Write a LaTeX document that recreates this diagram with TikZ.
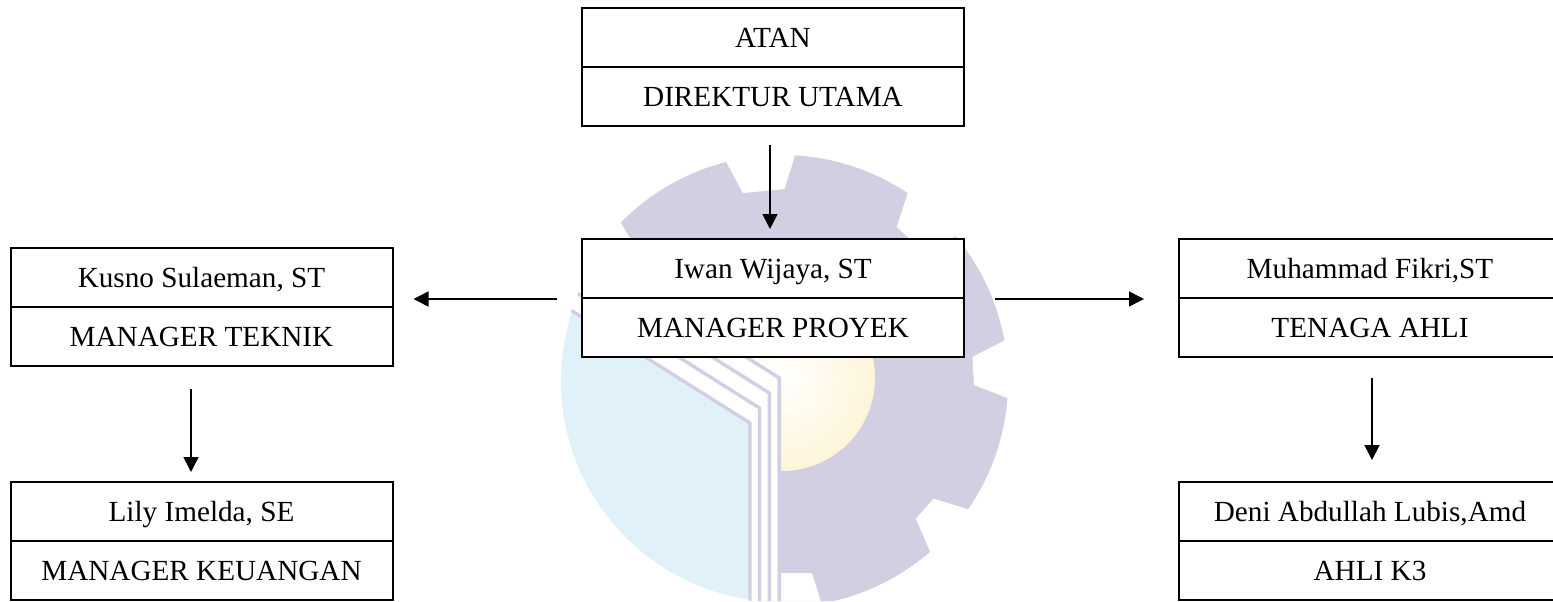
\documentclass[tikz,border=0pt]{standalone}
\usepackage{fontspec}
\setmainfont{Liberation Serif}
\usetikzlibrary{arrows.meta}
\definecolor{gearcol}{HTML}{D2CFE2}
\definecolor{bookcol}{HTML}{E0F1FA}
\definecolor{suncol}{HTML}{FEF5D8}
\tikzset{
    cell/.style={draw=black,fill=white,line width=1pt,minimum width=191pt,minimum height=29.5pt,
        inner sep=0pt,text height=9.6pt,text depth=0pt,font=\fontsize{14.6}{16}\selectfont},
    link/.style={-{Stealth[length=7.5pt,width=7.5pt,inset=0pt]},line width=0.8pt},
    bookline/.style={draw=gearcol,line width=1.7pt}
}
\begin{document}
\begin{tikzpicture}[x=0.5pt,y=-0.5pt]
                \clip (0,0) rectangle (1553,601);

                % watermark
                \begin{scope}
                    \clip (621,223)--(630,238)--(777.5,378)--(777.5,601)--(1100,601)--(1100,100)--(621,100)--cycle;
                    \fill[gearcol] (782,381) circle[radius=226];
                    \begin{scope}[shift={(782,381)}]
                        \foreach \notchang/\halfout/\halfin in {-95.5/8.8/6.25,-48/8.2/5.3,-3/7.3/4.2,41.8/7.25/4}{
                            \fill[white] (\notchang-\halfout:226)--(\notchang-\halfin:192)--(\notchang+\halfin:192)
                                --(\notchang+\halfout:226)--(\notchang+\halfout:240)--(\notchang-\halfout:240)--cycle;
                        }
                    \end{scope}
                    \fill[white] (781,573)--(812,573)--(822,605)--(781,605)--cycle;
                \end{scope}

                \begin{scope}
                    \clip (779,378)--(629,284)--(1000,284)--(1000,601)--(779,601)--cycle;
                    \shade[inner color=white,outer color=suncol] (782,378) circle[radius=93];
                \end{scope}

                \begin{scope}
                    \clip (750,423)--(550,297)--(550,601)--(750,601)--cycle;
                    \fill[bookcol] (782,381) circle[radius=221];
                \end{scope}

                \begin{scope}
                    \clip (782,381) circle[radius=222];
                    \draw[bookline] (750,601)--(750,423)--(550,297);
                    \draw[bookline] (759.5,601)--(759.5,408)--(559.5,282);
                    \draw[bookline] (769.3,601)--(769.3,393)--(569.3,267);
                    \draw[bookline] (779.3,601)--(779.3,378)--(579.3,252);
                \end{scope}

                % boxes
                \node[cell] (atan) at (773,37.5) {ATAN};
                \node[cell] (direktur) at (773,96.5) {DIREKTUR UTAMA};

                \node[cell] (iwan) at (773,268.5) {Iwan Wijaya, ST};
                \node[cell] (proyek) at (773,327.5) {MANAGER PROYEK};

                \node[cell] (kusno) at (201.5,277.5) {Kusno Sulaeman, ST};
                \node[cell] (teknik) at (201.5,336.5) {MANAGER TEKNIK};

                \node[cell] (lily) at (201.5,511.5) {Lily Imelda, SE};
                \node[cell] (keuangan) at (201.5,570.5) {MANAGER KEUANGAN};

                \node[cell] (fikri) at (1370,268.5) {Muhammad Fikri,ST};
                \node[cell] (tenaga) at (1370,327.5) {TENAGA AHLI};

                \node[cell] (deni) at (1370,511.5) {Deni Abdullah Lubis,Amd};
                \node[cell] (ahli) at (1370,570.5) {AHLI K3};

                % arrows
                \draw[link,shorten <=9pt,shorten >=4.5pt] ([xshift=-1.5pt]direktur.south)--([xshift=-1.5pt]iwan.north);
                \draw[link,shorten <=12pt,shorten >=10pt] (iwan.south west)--(iwan.south west -| kusno.east);
                \draw[link,shorten <=15pt,shorten >=17pt] (iwan.south east)--(fikri.south west);
                \draw[link,shorten <=11pt,shorten >=4.5pt] ([xshift=-5.25pt]teknik.south)--([xshift=-5.25pt]lily.north);
                \draw[link,shorten <=10pt,shorten >=10.5pt] ([xshift=1pt]tenaga.south)--([xshift=1pt]deni.north);
\end{tikzpicture}
\end{document}
